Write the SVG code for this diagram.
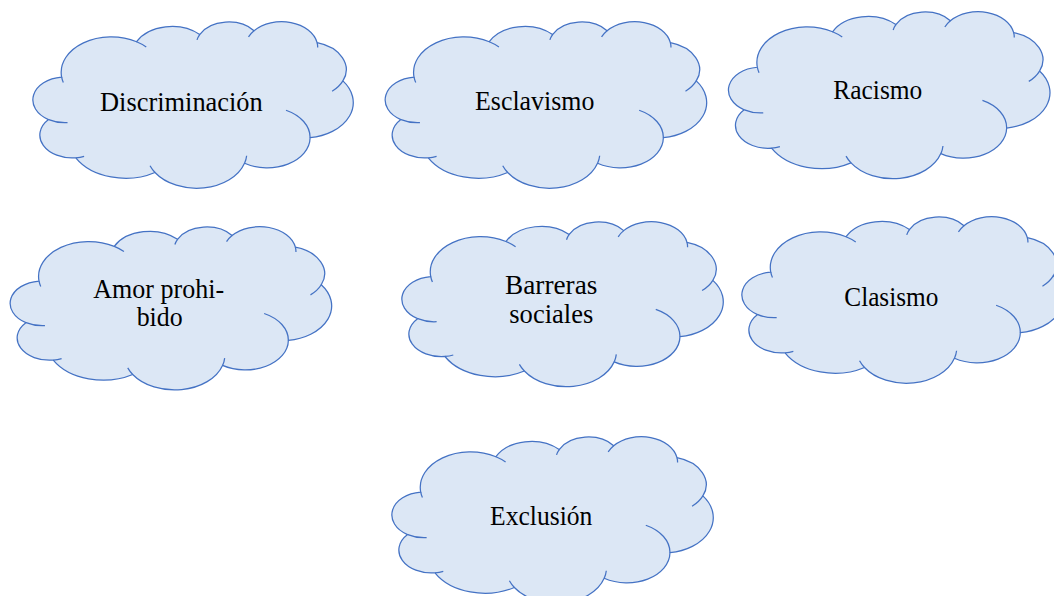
<svg xmlns="http://www.w3.org/2000/svg" xmlns:xlink="http://www.w3.org/1999/xlink" width="1054" height="596" viewBox="0 0 1054 596">
  <style>
    .cloud { fill: #DCE7F5; stroke: #4472C4; stroke-width: 1.25; }
    .crease { fill: none; stroke: #4472C4; stroke-width: 1.25; }
    .label { font-family: "Liberation Serif", "Times New Roman", serif; font-size: 27px; fill: #000000; text-anchor: middle; }
  </style>
  <defs>
    <!-- Cloud outline drawn in a 43200 x 43200 unit box; each node scales it to its own size -->
    <path id="cloud-body" vector-effect="non-scaling-stroke" d="M3900 14370 A6753 9190 0 0 1 14000 5192 A5333 7267 0 0 1 22500 3330 A4365 5945 0 0 1 29825 2340 A4857 6595 0 0 1 38324 5426 A5333 7273 0 0 1 41798 15354 A6775 9220 0 0 1 37380 30090 A5785 7867 0 0 1 28540 36700 A6752 9215 0 0 1 16478 39090 A7720 10543 0 0 1 5810 35290 A4360 5918 0 0 1 2130 25378 A4345 5945 0 0 1 3900 14370 Z"/>
    <!-- Short inner arcs where the puffs overlap -->
    <path id="cloud-creases" vector-effect="non-scaling-stroke" d="M4693 26177 A4345 5945 0 0 1 2160 25380 M6928 34899 A4360 5918 0 0 1 5820 35280 M16478 39090 A6752 9215 0 0 1 15810 37350 M28827 34751 A6752 9215 0 0 1 28560 36660 M34129 22954 A5785 7867 0 0 1 37380 30090 M41798 15354 A5333 7273 0 0 1 40350 18030 M38324 5426 A4857 6595 0 0 1 38400 6690 M29078 3952 A4857 6595 0 0 1 29820 2340 M22141 4720 A4365 5945 0 0 1 22500 3330 M14000 5192 A6753 9190 0 0 1 15300 6540 M4127 15789 A6753 9190 0 0 1 3900 14370"/>
  </defs>

  <rect x="0" y="0" width="1054" height="596" fill="#FFFFFF"/>

  <g id="connectors"/>

  <g id="node-discriminacion">
    <g transform="translate(32.7 21.7) scale(0.0074213 0.0038565)">
      <use xlink:href="#cloud-body" class="cloud"/>
      <use xlink:href="#cloud-creases" class="crease"/>
    </g>
    <text class="label" x="181.4" y="111" textLength="162.7" lengthAdjust="spacingAndGlyphs">Discriminación</text>
  </g>

  <g id="node-esclavismo">
    <g transform="translate(385 21.7) scale(0.0074468 0.0038565)">
      <use xlink:href="#cloud-body" class="cloud"/>
      <use xlink:href="#cloud-creases" class="crease"/>
    </g>
    <text class="label" x="534.7" y="110" textLength="119.3" lengthAdjust="spacingAndGlyphs">Esclavismo</text>
  </g>

  <g id="node-racismo">
    <g transform="translate(728.3 11.7) scale(0.0074468 0.0038657)">
      <use xlink:href="#cloud-body" class="cloud"/>
      <use xlink:href="#cloud-creases" class="crease"/>
    </g>
    <text class="label" x="877.8" y="99.3" textLength="89" lengthAdjust="spacingAndGlyphs">Racismo</text>
  </g>

  <g id="node-amor-prohibido">
    <g transform="translate(10 226.7) scale(0.0074468 0.0037801)">
      <use xlink:href="#cloud-body" class="cloud"/>
      <use xlink:href="#cloud-creases" class="crease"/>
    </g>
    <text class="label" x="158.7" y="297.7" textLength="130.7" lengthAdjust="spacingAndGlyphs">Amor prohi-</text>
    <text class="label" x="159.7" y="325.7" textLength="46" lengthAdjust="spacingAndGlyphs">bido</text>
  </g>

  <g id="node-barreras-sociales">
    <g transform="translate(401.7 221.7) scale(0.0074444 0.0038194)">
      <use xlink:href="#cloud-body" class="cloud"/>
      <use xlink:href="#cloud-creases" class="crease"/>
    </g>
    <text class="label" x="551.2" y="294" textLength="92.3" lengthAdjust="spacingAndGlyphs">Barreras</text>
    <text class="label" x="551.3" y="322.7" textLength="84" lengthAdjust="spacingAndGlyphs">sociales</text>
  </g>

  <g id="node-clasismo">
    <g transform="translate(741.7 216.7) scale(0.0074537 0.0038565)">
      <use xlink:href="#cloud-body" class="cloud"/>
      <use xlink:href="#cloud-creases" class="crease"/>
    </g>
    <text class="label" x="891.3" y="305.7" textLength="94" lengthAdjust="spacingAndGlyphs">Clasismo</text>
  </g>

  <g id="node-exclusion">
    <g transform="translate(391.7 436.7) scale(0.0074444 0.0038565)">
      <use xlink:href="#cloud-body" class="cloud"/>
      <use xlink:href="#cloud-creases" class="crease"/>
    </g>
    <text class="label" x="541.2" y="525" textLength="102.3" lengthAdjust="spacingAndGlyphs">Exclusión</text>
  </g>
</svg>
